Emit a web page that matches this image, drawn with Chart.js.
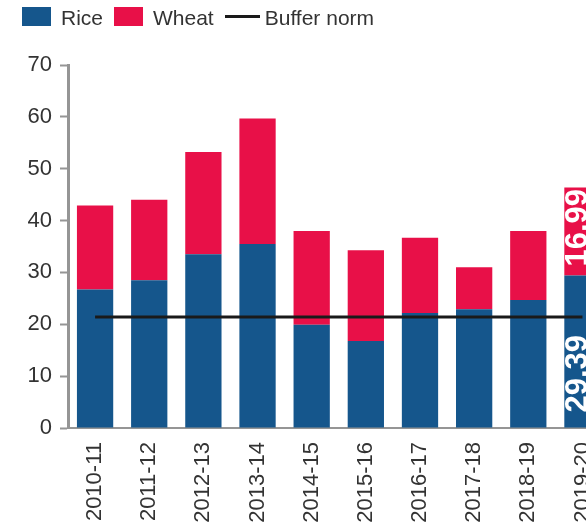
<!DOCTYPE html>
<html>
<head>
<meta charset="utf-8">
<script src="https://cdn.jsdelivr.net/npm/chart.js@4"></script>
<style>
  html, body { margin: 0; padding: 0; background: #fff; overflow: hidden; width: 586px; height: 522px; }
  #wrap { position: absolute; left: 0; top: 0; width: 623px; height: 560px; }
  #legend { position: absolute; left: 22px; top: 4px; display: flex; align-items: center;
    font: 21px "Liberation Sans", Arial, sans-serif; color: #333; }
  #legend .box { width: 29px; height: 19px; margin-right: 10px; }
  #legend .line { width: 35px; height: 3px; background: #1a1a1a; margin-right: 5px; }
  #legend .item { display: flex; align-items: center; margin-right: 11px; }
  #legend span { position: relative; top: 2px; }
</style>
</head>
<body>
<div id="wrap"><canvas id="chart" width="623" height="560"></canvas></div>
<div id="legend">
  <div class="item"><div class="box" style="background:#15568c"></div><span>Rice</span></div>
  <div class="item"><div class="box" style="background:#e81048"></div><span>Wheat</span></div>
  <div class="item"><div class="line"></div><span>Buffer norm</span></div>
</div>
<script>
// Stocks by season (million tonnes)
const seasons = ['2010-11', '2011-12', '2012-13', '2013-14', '2014-15',
  '2015-16', '2016-17', '2017-18', '2018-19', '2019-20'];
const rice = [26.7, 28.5, 33.5, 35.5, 19.9, 16.8, 22.2, 22.9, 24.7, 29.39];
const wheat = [16.2, 15.5, 19.7, 24.2, 18.1, 17.5, 14.5, 8.1, 13.3, 16.99];
const bufferNorm = seasons.map(() => 21.41);
const yTicks = [0, 10, 20, 30, 40, 50, 60, 70];

const labelIndex = 9; // only the last season carries value labels
const labelPad = [15, 9];

const textColor = '#333';
const axisColor = '#959595';

// white rotated value labels inside the last bar
const barLabels = {
  id: 'barLabels',
  afterDatasetsDraw(chart) {
    const ctx = chart.ctx;
    [0, 1].forEach((di) => {
      const bar = chart.getDatasetMeta(di).data[labelIndex];
      const val = chart.data.datasets[di].data[labelIndex];
      ctx.save();
      ctx.font = 'bold 31px "Liberation Sans", Arial, sans-serif';
      ctx.fillStyle = '#fff';
      ctx.translate(bar.x + 5, bar.base - labelPad[di]);
      ctx.rotate(-Math.PI / 2);
      ctx.textAlign = 'left';
      ctx.textBaseline = 'alphabetic';
      ctx.fillText(val.toFixed(2), 0, 0);
      ctx.restore();
    });
  },
};

const ctx = document.getElementById('chart').getContext('2d');
new Chart(ctx, {
  type: 'bar',
  data: {
    labels: seasons,
    datasets: [
      { label: 'Rice', data: rice, backgroundColor: '#15568c', stack: 'grain', order: 1 },
      { label: 'Wheat', data: wheat, backgroundColor: '#e81048', stack: 'grain', order: 1 },
      {
        type: 'line', label: 'Buffer norm', data: bufferNorm, stack: 'norm',
        borderColor: '#1a1a1a', borderWidth: 3, pointRadius: 0, fill: false, order: 0,
      },
    ],
  },
  options: {
    responsive: false,
    animation: false,
    devicePixelRatio: 1,
    layout: { padding: { top: 65, right: 3, bottom: 0, left: 0 } },
    datasets: { bar: { barPercentage: 0.67, categoryPercentage: 1 } },
    plugins: { legend: { display: false }, tooltip: { enabled: false } },
    scales: {
      x: {
        stacked: true,
        grid: { display: false, drawTicks: false },
        border: { display: true, color: axisColor, width: 2 },
        ticks: {
          color: textColor, font: { family: '"Liberation Sans", Arial, sans-serif', size: 22 },
          minRotation: 90, maxRotation: 90, padding: 14, autoSkip: false,
        },
        afterFit: (s) => { s.height = 132; },
      },
      y: {
        stacked: true,
        min: 0, max: 70,
        afterBuildTicks: (s) => { s.ticks = yTicks.map((v) => ({ value: v })); },
        grid: { drawOnChartArea: false, drawTicks: true, tickLength: 8, tickWidth: 2, tickColor: axisColor },
        border: { display: true, color: axisColor, width: 3 },
        ticks: {
          color: textColor, font: { family: '"Liberation Sans", Arial, sans-serif', size: 22 },
          padding: 8,
        },
        afterFit: (s) => { s.width = 68; },
      },
    },
  },
  plugins: [barLabels],
});
</script>
</body>
</html>
